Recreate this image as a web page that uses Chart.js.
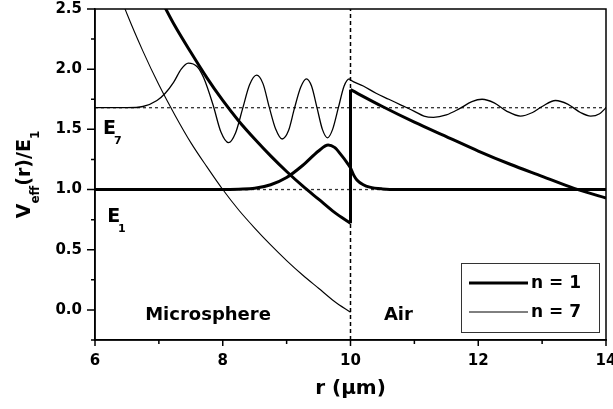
<!DOCTYPE html>
<html>
<head>
<meta charset="utf-8">
<script src="https://cdn.jsdelivr.net/npm/chart.js@4.4.1/dist/chart.umd.min.js"></script>
<style>
  html, body { margin: 0; padding: 0; background: #fff; }
</style>
</head>
<body>
<canvas id="chart" width="613" height="409"></canvas>
<script>
// effective potential, n = 1 (inside / outside the sphere)
var rPot1In  = [7.0, 7.25, 7.5, 7.75, 8.0, 8.25, 8.5, 8.75, 9.0, 9.25, 9.5, 9.75, 10.0];
var vPot1In  = [2.61, 2.36, 2.14, 1.93, 1.74, 1.57, 1.42, 1.28, 1.15, 1.03, 0.92, 0.81, 0.72];
var rPot1Out = [10.0, 10.5, 11.0, 11.5, 12.0, 12.5, 13.0, 13.5, 14.0];
var vPot1Out = [1.83, 1.69, 1.56, 1.44, 1.32, 1.21, 1.11, 1.01, 0.93];

// effective potential, n = 7 (inside only)
var rPot7 = [6.4, 6.5, 6.75, 7.0, 7.25, 7.5, 7.75, 8.0, 8.25, 8.5, 8.75, 9.0, 9.25, 9.5, 9.75, 10.0];
var vPot7 = [2.60, 2.46, 2.15, 1.87, 1.62, 1.39, 1.19, 1.00, 0.83, 0.68, 0.54, 0.41, 0.29, 0.18, 0.07, -0.02];

// mode profiles, drawn on their energy levels
var rMode1 = [6, 7, 8, 8.25, 8.5, 8.75, 9.0, 9.25, 9.5, 9.65, 9.75, 9.85, 9.95, 10.0, 10.05, 10.1, 10.2, 10.3, 10.5, 10.75, 12, 14];
var vMode1 = [1, 1, 1, 1.003, 1.01, 1.04, 1.10, 1.20, 1.32, 1.37, 1.35, 1.29, 1.22, 1.18, 1.12, 1.08, 1.04, 1.02, 1.005, 1.0, 1.0, 1.0];

var rMode7 = [6, 6.5, 6.75, 6.97, 7.1, 7.23, 7.35, 7.46, 7.6, 7.7, 7.85, 7.97, 8.09, 8.2, 8.31, 8.42, 8.53, 8.63, 8.73, 8.83, 8.93,
              9.03, 9.12, 9.22, 9.31, 9.39, 9.48, 9.56, 9.64, 9.72, 9.81, 9.90, 9.98, 10.0, 10.2, 10.4, 10.6, 10.8, 11.0, 11.15, 11.3,
              11.5, 11.7, 11.9, 12.06, 12.25, 12.45, 12.66, 12.85, 13.0, 13.21, 13.4, 13.6, 13.76, 13.9, 14.0];
var vMode7 = [1.68, 1.68, 1.69, 1.74, 1.80, 1.89, 2.00, 2.05, 2.02, 1.93, 1.70, 1.48, 1.39, 1.47, 1.67, 1.87, 1.95, 1.88, 1.68, 1.50, 1.42,
              1.49, 1.67, 1.85, 1.92, 1.86, 1.67, 1.50, 1.43, 1.50, 1.68, 1.86, 1.92, 1.91, 1.86, 1.80, 1.75, 1.70, 1.65, 1.61, 1.60,
              1.62, 1.67, 1.73, 1.75, 1.72, 1.65, 1.61, 1.64, 1.69, 1.74, 1.71, 1.64, 1.61, 1.63, 1.68];

var E1 = 1.0, E7 = 1.68, rEdge = 10;
var xRange = [6, 14], yRange = [-0.25, 2.5];
var xTicks = [6, 7, 8, 9, 10, 11, 12, 13, 14];
var yTicks = [-0.25, 0, 0.25, 0.5, 0.75, 1, 1.25, 1.5, 1.75, 2, 2.25, 2.5];

var FONT = "'DejaVu Sans', sans-serif";

function pts(xs, ys) {
    return xs.map(function (x, i) { return { x: x, y: ys[i] }; });
}

function line(data, width, extra) {
    var ds = {
        data: data, borderColor: '#000', borderWidth: width, pointRadius: 0,
        fill: false, cubicInterpolationMode: 'monotone'
    };
    for (var k in extra) ds[k] = extra[k];
    return ds;
}

// text with a dropped subscript
function subText(ctx, x, y, main, sub, size, subSize, drop) {
    ctx.font = 'bold ' + size + 'px ' + FONT;
    ctx.fillText(main, x, y);
    var w = ctx.measureText(main).width;
    ctx.font = 'bold ' + subSize + 'px ' + FONT;
    ctx.fillText(sub, x + w - 2, y + drop);
}

var decor = {
    id: 'decor',
    afterDraw: function (chart) {
        var ctx = chart.ctx, a = chart.chartArea;
        var xs = chart.scales.x, ys = chart.scales.y;
        ctx.save();
        ctx.fillStyle = '#000';
        ctx.strokeStyle = '#000';

        // frame
        ctx.lineWidth = 1.5;
        ctx.strokeRect(a.left, a.top, a.right - a.left, a.bottom - a.top);

        // major and minor ticks
        ctx.beginPath();
        xTicks.forEach(function (v) {
            var px = xs.getPixelForValue(v);
            ctx.moveTo(px, a.bottom);
            ctx.lineTo(px, a.bottom + (v % 2 === 0 ? 6 : 4));
        });
        yTicks.forEach(function (v) {
            var py = ys.getPixelForValue(v);
            var major = Math.abs(v * 2 - Math.round(v * 2)) < 1e-6;
            ctx.moveTo(a.left, py);
            ctx.lineTo(a.left - (major ? 8 : 4), py);
        });
        ctx.stroke();

        // level and region labels
        ctx.textAlign = 'left';
        ctx.textBaseline = 'alphabetic';
        subText(ctx, xs.getPixelForValue(6.125), ys.getPixelForValue(1.462), 'E', '7', 19, 11, 10);
        subText(ctx, xs.getPixelForValue(6.19), ys.getPixelForValue(0.731), 'E', '1', 19, 11, 10);

        ctx.font = 'bold 18px ' + FONT;
        ctx.textAlign = 'center';
        ctx.fillText('Microsphere', xs.getPixelForValue(7.77), ys.getPixelForValue(-0.083));
        ctx.fillText('Air', xs.getPixelForValue(10.75), ys.getPixelForValue(-0.083));

        // legend box
        var lx = a.right - 145, ly = a.bottom - 77;
        ctx.lineWidth = 1;
        ctx.strokeStyle = '#333';
        ctx.strokeRect(lx + 0.5, ly + 0.5, 138, 69);
        ctx.strokeStyle = '#000';
        ctx.lineWidth = 3;
        ctx.beginPath(); ctx.moveTo(lx + 8, ly + 20); ctx.lineTo(lx + 67, ly + 20); ctx.stroke();
        ctx.lineWidth = 1;
        ctx.beginPath(); ctx.moveTo(lx + 8, ly + 49); ctx.lineTo(lx + 67, ly + 49); ctx.stroke();
        ctx.font = 'bold 17px ' + FONT;
        ctx.textAlign = 'left';
        ctx.textBaseline = 'middle';
        ctx.fillText('n = 1', lx + 70, ly + 21);
        ctx.fillText('n = 7', lx + 70, ly + 50);

        // x title
        ctx.font = 'bold 20px ' + FONT;
        ctx.textAlign = 'center';
        ctx.textBaseline = 'alphabetic';
        ctx.fillText('r (\u03bcm)', (a.left + a.right) / 2, 394);

        // y title, rotated, with subscripts
        var parts = [['V', 19, 0], ['eff', 12, 9], ['(r)/E', 19, 0], ['1', 12, 9]];
        var total = 0;
        parts.forEach(function (p) {
            ctx.font = 'bold ' + p[1] + 'px ' + FONT;
            p.push(ctx.measureText(p[0]).width);
            total += p[3];
        });
        ctx.translate(30, (a.top + a.bottom) / 2);
        ctx.rotate(-Math.PI / 2);
        ctx.textAlign = 'left';
        var cx = -total / 2;
        parts.forEach(function (p) {
            ctx.font = 'bold ' + p[1] + 'px ' + FONT;
            ctx.fillText(p[0], cx, p[2]);
            cx += p[3];
        });
        ctx.restore();
    }
};

new Chart(document.getElementById('chart'), {
    type: 'line',
    data: {
        datasets: [
            line(pts(rPot1In, vPot1In), 3),
            line(pts([rEdge, rEdge], [vPot1In[vPot1In.length - 1], vPot1Out[0]]), 3, { cubicInterpolationMode: 'default', tension: 0 }),
            line(pts(rPot1Out, vPot1Out), 3),
            line(pts(rMode1, vMode1), 3),
            line(pts(rPot7, vPot7), 1.1),
            line(pts(rMode7, vMode7), 1.3),
            line(pts(xRange, [E7, E7]), 1.3, { borderDash: [3, 3], borderColor: '#333', order: 5, cubicInterpolationMode: 'default' }),
            line(pts(xRange, [E1, E1]), 1.3, { borderDash: [3, 3], borderColor: '#333', order: 5, cubicInterpolationMode: 'default' }),
            line(pts([rEdge, rEdge], yRange), 1.5, { borderDash: [4, 3], cubicInterpolationMode: 'default', order: -1 })
        ]
    },
    options: {
        responsive: false,
        animation: false,
        events: [],
        layout: { padding: { top: 9, right: 7, left: 0, bottom: 0 } },
        plugins: { legend: { display: false }, tooltip: { enabled: false } },
        scales: {
            x: {
                type: 'linear', min: xRange[0], max: xRange[1],
                afterFit: function (s) { s.height = 69; s.paddingLeft = 0; s.paddingRight = 0; },
                grid: { display: false, drawTicks: false },
                border: { display: true, color: '#000', width: 1.5 },
                ticks: {
                    stepSize: 2, padding: 12, color: '#000', maxRotation: 0, autoSkip: false,
                    font: { family: FONT, size: 15, weight: 'bold' }
                }
            },
            y: {
                type: 'linear', min: yRange[0], max: yRange[1],
                afterFit: function (s) { s.width = 95; s.paddingTop = 0; s.paddingBottom = 0; },
                grid: { display: false, drawTicks: false },
                border: { display: true, color: '#000', width: 1.5 },
                ticks: {
                    stepSize: 0.5, padding: 13, color: '#000', autoSkip: false,
                    font: { family: FONT, size: 15, weight: 'bold' },
                    callback: function (v) {
                        return Math.abs(v * 2 - Math.round(v * 2)) < 1e-6 ? v.toFixed(1) : '';
                    }
                }
            }
        }
    },
    plugins: [decor]
});
</script>
</body>
</html>
